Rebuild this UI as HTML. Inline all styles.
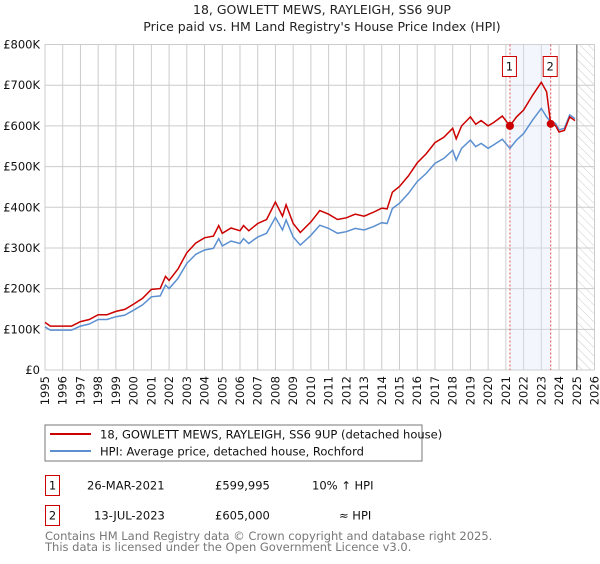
<!DOCTYPE html>
<html><head><meta charset="utf-8"><style>
body{margin:0;background:#fff;font-family:"DejaVu Sans","Liberation Sans",sans-serif;}
svg text{font-family:"DejaVu Sans","Liberation Sans",sans-serif;}
</style></head><body>
<svg id="chart" width="600" height="560" viewBox="0 0 600 560" xmlns="http://www.w3.org/2000/svg">
<defs><pattern id="hatch" width="6" height="6" patternUnits="userSpaceOnUse" patternTransform="rotate(-45)"><line x1="0" y1="0" x2="0" y2="6" stroke="#ccc" stroke-width="1"/></pattern></defs>
<text x="322" y="14" text-anchor="middle" font-size="12.5" fill="#222">18, GOWLETT MEWS, RAYLEIGH, SS6 9UP</text>
<text x="322" y="31" text-anchor="middle" font-size="12.5" fill="#222">Price paid vs. HM Land Registry's House Price Index (HPI)</text>
<g id="grid"></g><g id="bands"></g><g id="series"></g><g id="axes"></g>
<g>
<rect x="45" y="425" width="377" height="36" fill="#fff" stroke="#777"/>
<line x1="50" y1="434" x2="91" y2="434" stroke="#cc0000" stroke-width="2"/>
<text x="100" y="438.5" font-size="11.5" fill="#111">18, GOWLETT MEWS, RAYLEIGH, SS6 9UP (detached house)</text>
<line x1="50" y1="451" x2="91" y2="451" stroke="#5b8fd0" stroke-width="2"/>
<text x="100" y="455.5" font-size="11.5" fill="#111">HPI: Average price, detached house, Rochford</text>
</g>
<g font-size="11.5" fill="#111">
<rect x="45.5" y="475.5" width="14" height="20" fill="#fff" stroke="#cc0000"/>
<text x="52.5" y="489.5" text-anchor="middle">1</text>
<text x="87" y="489.5">26-MAR-2021</text><text x="215" y="489.5">£599,995</text><text x="312" y="489.5">10% ↑ HPI</text>
<rect x="45.5" y="505.5" width="14" height="20" fill="#fff" stroke="#cc0000"/>
<text x="52.5" y="519.5" text-anchor="middle">2</text>
<text x="94" y="519.5">13-JUL-2023</text><text x="215" y="519.5">£605,000</text><text x="339" y="519.5">≈ HPI</text>
</g>
<text x="45" y="540" font-size="11.5" fill="#777">Contains HM Land Registry data © Crown copyright and database right 2025.</text>
<text x="45" y="551" font-size="11.5" fill="#777">This data is licensed under the Open Government Licence v3.0.</text>
</svg>
<script>
const yearTicks=[1995,1996,1997,1998,1999,2000,2001,2002,2003,2004,2005,2006,2007,2008,2009,2010,2011,2012,2013,2014,2015,2016,2017,2018,2019,2020,2021,2022,2023,2024,2025,2026];
const valueTicks=[0,100,200,300,400,500,600,700,800];
const valueLabels=["£0","£100K","£200K","£300K","£400K","£500K","£600K","£700K","£800K"];
const dates=[1995,1995.3,1996,1996.5,1997,1997.5,1998,1998.5,1999,1999.5,2000,2000.5,2001,2001.5,2001.8,2002,2002.5,2003,2003.5,2004,2004.5,2004.8,2005,2005.5,2006,2006.2,2006.5,2007,2007.5,2008,2008.4,2008.6,2009,2009.4,2010,2010.5,2011,2011.5,2012,2012.5,2013,2013.5,2014,2014.3,2014.6,2015,2015.5,2016,2016.5,2017,2017.5,2018,2018.2,2018.5,2019,2019.3,2019.6,2020,2020.3,2020.8,2021.23,2021.6,2022,2022.5,2023,2023.3,2023.53,2023.8,2024,2024.3,2024.6,2024.9];
const hpi=[106,98,98,98,108,113,124,124,131,135,147,160,180,182,209,200,225,262,284,295,299,323,305,317,311,323,311,327,336,375,344,369,327,307,331,356,348,336,340,348,344,352,362,360,397,410,434,463,483,508,520,540,516,545,565,549,557,545,553,567,545,565,581,614,643,622,610,606,590,594,627,618];
const priceSeries=[117,108,108,108,119,124,136,136,144,149,162,176,198,200,230,220,248,288,312,325,329,355,336,349,342,355,342,360,370,413,378,406,360,338,364,392,383,370,374,383,378,387,398,396,437,451,477,509,531,559,572,594,568,600,622,604,613,600,608,624,600,622,639,675,707,684,605,601,585,589,622,613];
const sales=[{n:"1",date:2021.23,value:599.995},{n:"2",date:2023.53,value:605}];
const X0=45,X1=594.5,Y0=370,Y1=44.5;
const x=d=>X0+(d-1995)/(2026-1995)*(X1-X0);
const y=v=>Y0-(v/800)*(Y0-Y1);
const NS="http://www.w3.org/2000/svg";
function mk(tag,attrs,parent){const e=document.createElementNS(NS,tag);for(const k in attrs)e.setAttribute(k,attrs[k]);parent.appendChild(e);return e;}
const grid=document.getElementById('grid'),axes=document.getElementById('axes'),bands=document.getElementById('bands'),series=document.getElementById('series');
yearTicks.forEach(t=>{
 const l=mk('line',{x1:x(t),x2:x(t),y1:Y1,y2:Y0,stroke:'#ccc','stroke-width':1},grid);
 
 
 const tx=mk('text',{x:0,y:0,'font-size':11.5,fill:'#111','text-anchor':'end',transform:`translate(${x(t)+4},${Y0+6}) rotate(-90)`},axes);
 tx.textContent=t;
 
 
});
valueTicks.forEach((v,i)=>{
 const l=mk('line',{x1:X0,x2:X1,y1:y(v),y2:y(v),stroke:'#ccc','stroke-width':1},grid);
 
 
 const tx=mk('text',{x:X0-5,y:y(v)+4,'font-size':11.5,fill:'#111','text-anchor':'end'},axes);
 tx.textContent=valueLabels[i];
 
 
});
const band=mk('rect',{x:x(sales[0].date),y:Y1,width:x(sales[1].date)-x(sales[0].date),height:Y0-Y1,fill:'#dde8f8','fill-opacity':0.35},bands);


const hat=mk('rect',{x:x(2025),y:Y1,width:X1-x(2025),height:Y0-Y1,fill:'url(#hatch)'},bands);


const hl=mk('line',{x1:x(2025),x2:x(2025),y1:Y1,y2:Y0,stroke:'#888','stroke-width':1.5},bands);


sales.forEach(s=>{
 const l=mk('line',{x1:x(s.date),x2:x(s.date),y1:Y1,y2:Y0,stroke:'#e05050','stroke-width':1,'stroke-dasharray':'2,2'},bands);
 
 
});
const blue=mk('path',{d:dates.map((d,i)=>(i?'L':'M')+x(d).toFixed(1)+','+y(hpi[i]).toFixed(1)).join(''),fill:'none',stroke:'#5b8fd0','stroke-width':1.5},series);


const red=mk('path',{d:dates.map((d,i)=>(i?'L':'M')+x(d).toFixed(1)+','+y(priceSeries[i]).toFixed(1)).join(''),fill:'none',stroke:'#cc0000','stroke-width':1.5},series);


sales.forEach(s=>{
 const c=mk('circle',{cx:x(s.date),cy:y(s.value),r:4,fill:'#cc0000'},series);
 
 
 const g=mk('g',{},series);
 
 
 mk('rect',{x:x(s.date)-7.5,y:56.5,width:14,height:20,fill:'#fff',stroke:'#cc0000'},g);
 const t=mk('text',{x:x(s.date)-0.5,y:70.5,'font-size':11.5,'text-anchor':'middle',fill:'#111'},g);
 t.textContent=s.n;
});
</script>
</body></html>
